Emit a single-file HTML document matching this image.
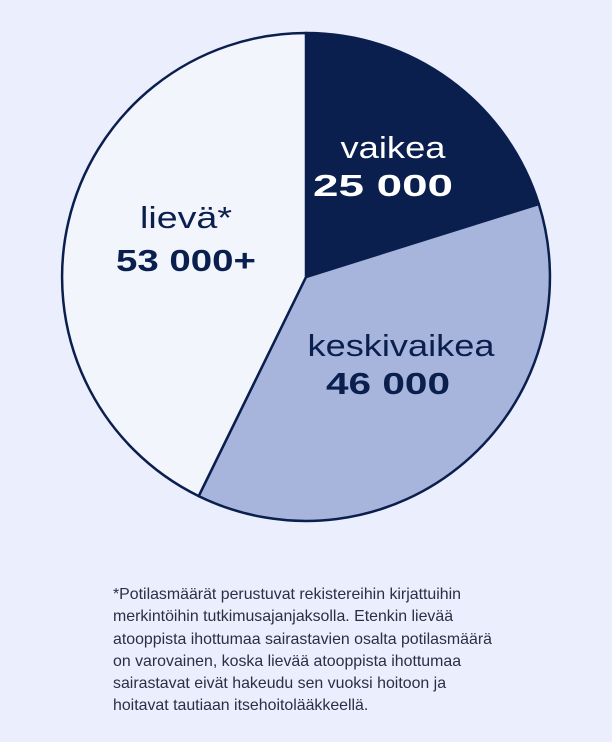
<!DOCTYPE html>
<html><head><meta charset="utf-8"><style>
html,body{margin:0;padding:0;background:#eaeefd;}
body{width:612px;height:742px;position:relative;overflow:hidden;font-family:"Liberation Sans",sans-serif;}
.fn{position:absolute;left:113px;top:584px;font-size:15.9px;line-height:22.3px;color:#2a2f45;white-space:nowrap;}
</style></head><body>
<svg width="612" height="560" style="position:absolute;left:0;top:0">
<g stroke="#0a1f4d" stroke-width="2.5" stroke-linejoin="round">
<path d="M306,277 L306,33 A244,244 0 0 1 538.8,204 Z" fill="#0a1f4d"/>
<path d="M306,277 L538.8,204 A244,244 0 0 1 198.7,496.1 Z" fill="#a7b5dc"/>
<path d="M306,277 L198.7,496.1 A244,244 0 0 1 306,33 Z" fill="#f3f5fd"/>
</g>
<g font-family="Liberation Sans, sans-serif" font-size="31" text-anchor="middle">
<text x="393" y="158" fill="#fff" textLength="105" lengthAdjust="spacingAndGlyphs">vaikea</text>
<text x="383" y="196" fill="#fff" font-weight="bold" textLength="140" lengthAdjust="spacingAndGlyphs">25 000</text>
<text x="186" y="228" fill="#0a1f4d" textLength="92" lengthAdjust="spacingAndGlyphs">lievä*</text>
<text x="186" y="271" fill="#0a1f4d" font-weight="bold" textLength="140" lengthAdjust="spacingAndGlyphs">53 000+</text>
<text x="401" y="356" fill="#0a1f4d" textLength="187" lengthAdjust="spacingAndGlyphs">keskivaikea</text>
<text x="388" y="394" fill="#0a1f4d" font-weight="bold" textLength="124" lengthAdjust="spacingAndGlyphs">46 000</text>
</g>
</svg>
<div class="fn">*Potilasmäärät perustuvat rekistereihin kirjattuihin<br>merkintöihin tutkimusajanjaksolla. Etenkin lievää<br>atooppista ihottumaa sairastavien osalta potilasmäärä<br>on varovainen, koska lievää atooppista ihottumaa<br>sairastavat eivät hakeudu sen vuoksi hoitoon ja<br>hoitavat tautiaan itsehoitolääkkeellä.</div>
</body></html>
